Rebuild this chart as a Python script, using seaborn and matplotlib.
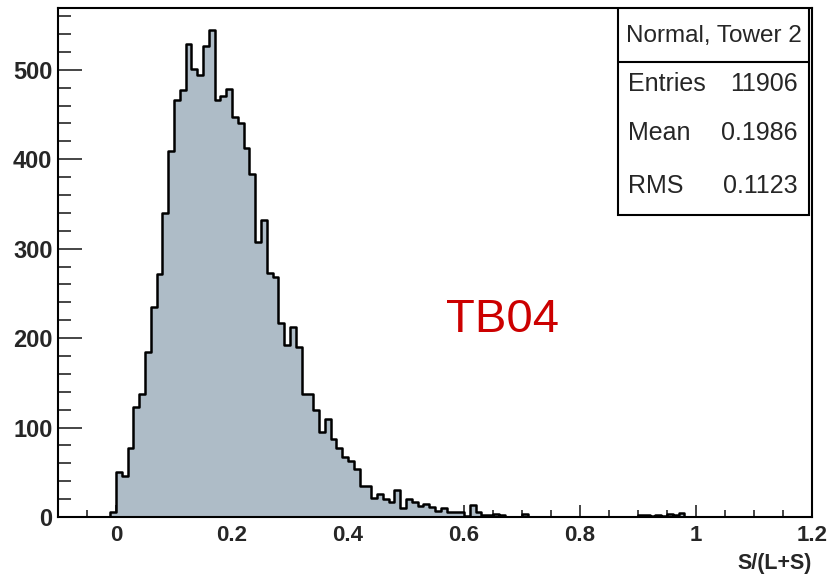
import numpy as np
import pandas as pd
import matplotlib
matplotlib.use("Agg")
import matplotlib.pyplot as plt
import seaborn as sns
from matplotlib.patches import Rectangle
from matplotlib.ticker import MultipleLocator

# ---- data ----
bin_width = 0.01
first_edge = -0.01
counts = [
    6,                                             # -0.01..0.00
    50, 46, 77, 123, 138, 185, 235, 272, 340, 409,  # 0.00..0.10
    466, 477, 529, 501, 494, 526, 544, 466, 471, 479,  # 0.10..0.20
    447, 441, 412, 383, 307, 332, 273, 268, 217, 192,  # 0.20..0.30
    212, 190, 138, 138, 120, 95, 110, 87, 77, 67,      # 0.30..0.40
    63, 54, 35, 35, 21, 26, 20, 17, 30, 10,            # 0.40..0.50
    20, 17, 12, 15, 11, 7, 10, 6, 6, 6,                # 0.50..0.60
    1, 13, 6, 2, 2, 3, 2, 0, 0, 0,                     # 0.60..0.70
    3, 0, 0, 0, 0, 0, 0, 0, 0, 0,                      # 0.70..0.80
    0, 0, 0, 0, 0, 0, 0, 0, 0, 0,                      # 0.80..0.90
    2, 2, 1, 2, 1, 3, 2, 4,                            # 0.90..0.98
]
x_ticks = [0, 0.2, 0.4, 0.6, 0.8, 1.0, 1.2]
x_ticklabels = ["0", "0.2", "0.4", "0.6", "0.8", "1", "1.2"]
y_ticks = [0, 100, 200, 300, 400, 500]
stats_title = "Normal, Tower 2"
stats_names = ["Entries", "Mean", "RMS"]
stats_values = ["11906", "0.1986", "0.1123"]
x_label = "S/(L+S)"
annotation = "TB04"

n_bins = len(counts)
centers = first_edge + bin_width * (np.arange(n_bins) + 0.5)
df = pd.DataFrame({"x": centers, "w": counts})

sns.set_style("ticks")
plt.rcParams["font.family"] = ["Liberation Sans", "DejaVu Sans"]

fig = plt.figure(figsize=(8.28, 5.77), dpi=100)
ax = fig.add_axes([58 / 828, 60 / 577, 754 / 828, 509 / 577])

sns.histplot(data=df, x="x", weights="w", binwidth=bin_width,
             binrange=(first_edge, first_edge + bin_width * n_bins),
             element="step", fill=True, color="#aebcc7", alpha=1.0,
             edgecolor="black", linewidth=1.8, ax=ax)

ax.set_xlim(-0.1, 1.2)
ax.set_ylim(0, 569)
ax.set_ylabel("")
ax.set_xticks(x_ticks)
ax.set_xticklabels(x_ticklabels, fontsize=16, fontweight="bold")
ax.set_yticks(y_ticks)
ax.set_yticklabels([str(v) for v in y_ticks], fontsize=17, fontweight="bold")
ax.xaxis.set_minor_locator(MultipleLocator(0.05))
ax.yaxis.set_minor_locator(MultipleLocator(20))
ax.tick_params(axis="y", which="major", direction="in", length=17, width=1.2, pad=4)
ax.tick_params(axis="y", which="minor", direction="in", length=9, width=1.2)
ax.tick_params(axis="x", which="major", direction="in", length=9, width=1.2, pad=6)
ax.tick_params(axis="x", which="minor", direction="in", length=5, width=1.2)
for s in ax.spines.values():
    s.set_linewidth(1.5)
    s.set_color("black")
ax.set_xlabel(x_label, fontsize=15.5, fontweight="bold", loc="right", labelpad=5)

# stats box
bx0, bx1 = (618 - 58) / 754, (809 - 58) / 754
by0, by1 = (517 - 215) / 509, 1.0
sep = (517 - 62) / 509
ax.add_patch(Rectangle((bx0, by0), bx1 - bx0, by1 - by0, transform=ax.transAxes,
                       facecolor="white", edgecolor="black", linewidth=1.5, zorder=5))
ax.plot([bx0, bx1], [sep, sep], transform=ax.transAxes, color="black", lw=1.5, zorder=6)
ax.text((bx0 + bx1) / 2, (517 - 36) / 509, stats_title, transform=ax.transAxes,
        ha="center", va="center", fontsize=17.5, zorder=7)
for i, (n, v) in enumerate(zip(stats_names, stats_values)):
    yy = (517 - [84, 133, 186][i]) / 509
    ax.text((628 - 58) / 754, yy, n, transform=ax.transAxes, ha="left",
            va="center", fontsize=18, zorder=7)
    ax.text((798 - 58) / 754, yy, v, transform=ax.transAxes, ha="right",
            va="center", fontsize=18, zorder=7)

ax.text((503 - 58) / 754, (517 - 320) / 509, annotation, transform=ax.transAxes,
        ha="center", va="center", fontsize=34, color="#cc0000")

fig.savefig("out.png", dpi=100)
